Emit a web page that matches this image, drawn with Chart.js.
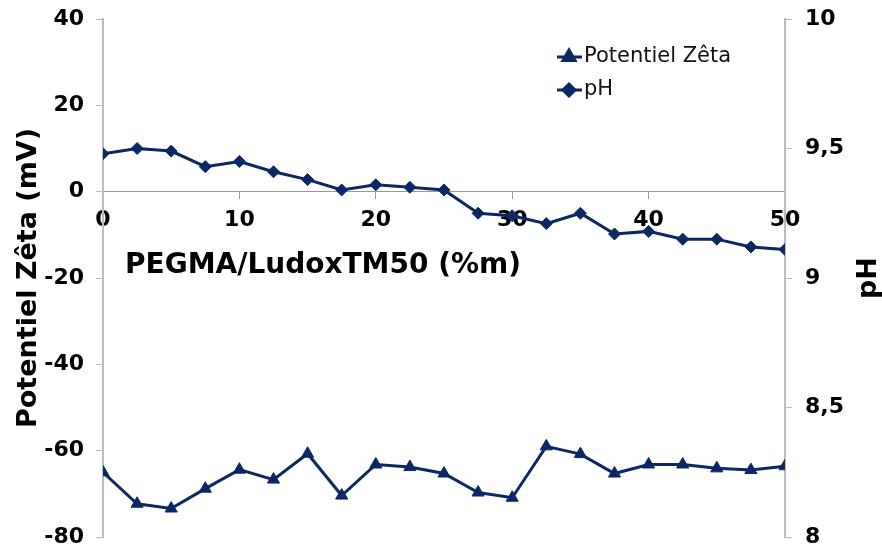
<!DOCTYPE html>
<html lang="fr">
<head>
    <meta charset="UTF-8">
    <title>Potentiel Zêta et pH</title>
    <script src="https://cdn.jsdelivr.net/npm/chart.js"></script>
    <style>
        body {
            margin: 0;
            background: #ffffff;
        }
        #chart-box {
            width: 882px;
            height: 550px;
        }
    </style>
</head>
<body>
    <div id="chart-box">
        <canvas id="zetaChart" width="882" height="550"></canvas>
    </div>

    <script>
        // PEGMA/LudoxTM50 ratio (%m)
        const pegmaRatio = [0, 2.5, 5, 7.5, 10, 12.5, 15, 17.5, 20, 22.5, 25,
                            27.5, 30, 32.5, 35, 37.5, 40, 42.5, 45, 47.5, 50];
        // Zeta potential (mV)
        const zetaValues = [-65.0, -72.3, -73.4, -68.8, -64.4, -66.7, -60.7, -70.4, -63.2, -63.8, -65.3,
                            -69.7, -70.9, -59.0, -60.8, -65.3, -63.2, -63.2, -64.1, -64.5, -63.6];
        // pH
        const phValues = [9.48, 9.50, 9.49, 9.43, 9.45, 9.41, 9.38, 9.34, 9.36, 9.35, 9.34,
                          9.25, 9.24, 9.21, 9.25, 9.17, 9.18, 9.15, 9.15, 9.12, 9.11];

        const seriesLabels = ['Potentiel Zêta', 'pH'];
        const xTitle = 'PEGMA/LudoxTM50 (%m)';
        const yTitle = 'Potentiel Zêta (mV)';
        const y2Title = 'pH';

        const navy = '#0c2764';
        const axisGrey = '#bdbdbd';
        const tickFont = { family: 'DejaVu Sans', size: 22, weight: 'bold' };
        const titleFont = { family: 'DejaVu Sans', size: 27, weight: 'bold' };

        const toPoints = values => values.map((v, i) => ({ x: pegmaRatio[i], y: v }));

        // fixed side widths; label overhang is left to the outer padding
        const fixWidth = w => scale => {
            scale.width = w;
            scale.paddingTop = 0;
            scale.paddingBottom = 0;
        };

        // Legend, x title and right title drawn by hand
        const extraText = {
            id: 'extraText',
            afterDraw(chart) {
                const ctx = chart.ctx;
                const area = chart.chartArea;
                const zeroY = chart.scales.y.getPixelForValue(0);
                ctx.save();

                // x axis title under the tick labels
                ctx.font = 'bold 28px "DejaVu Sans"';
                ctx.fillStyle = '#000';
                ctx.textAlign = 'left';
                ctx.textBaseline = 'middle';
                ctx.fillText(xTitle, area.left + 22, zeroY + 74);

                // right axis title, reading upwards
                ctx.font = 'bold 27px "DejaVu Sans"';
                ctx.translate(869, (area.top + area.bottom) / 2);
                ctx.rotate(-Math.PI / 2);
                ctx.textAlign = 'center';
                ctx.fillText(y2Title, 0, 0);
                ctx.restore();

                // legend entries
                ctx.save();
                const styles = ['triangle', 'rectRot'];
                const radii = [7, 6];
                chart.data.datasets.forEach((ds, i) => {
                    const y = 57 + i * 33;
                    ctx.strokeStyle = navy;
                    ctx.lineWidth = 3;
                    ctx.beginPath();
                    ctx.moveTo(557, y);
                    ctx.lineTo(582, y);
                    ctx.stroke();
                    ctx.fillStyle = navy;
                    Chart.helpers.drawPoint(ctx, {
                        pointStyle: styles[i], radius: radii[i], borderWidth: 1, rotation: 0
                    }, 569, y);
                    ctx.fillStyle = '#111';
                    ctx.font = '21px "DejaVu Sans"';
                    ctx.textAlign = 'left';
                    ctx.textBaseline = 'middle';
                    ctx.fillText(ds.label, 584, y);
                });
                ctx.restore();
            }
        };

        const ctx = document.getElementById('zetaChart').getContext('2d');
        const chart = new Chart(ctx, {
            type: 'line',
            data: {
                datasets: [{
                    label: seriesLabels[0],
                    data: toPoints(zetaValues),
                    yAxisID: 'y',
                    borderColor: navy,
                    backgroundColor: navy,
                    borderWidth: 3,
                    pointStyle: 'triangle',
                    pointRadius: 7,
                    pointBorderWidth: 1,
                    tension: 0
                }, {
                    label: seriesLabels[1],
                    data: toPoints(phValues),
                    yAxisID: 'y2',
                    borderColor: navy,
                    backgroundColor: navy,
                    borderWidth: 3,
                    pointStyle: 'rectRot',
                    pointRadius: 6,
                    pointBorderWidth: 1,
                    tension: 0
                }]
            },
            options: {
                responsive: false,
                animation: false,
                layout: {
                    padding: { top: 19, bottom: 13, left: 0, right: 0 }
                },
                plugins: {
                    legend: { display: false },
                    tooltip: { enabled: false }
                },
                scales: {
                    x: {
                        type: 'linear',
                        min: 0,
                        max: 50,
                        position: { y: 0 },
                        ticks: {
                            stepSize: 10,
                            color: '#000',
                            font: tickFont,
                            padding: 8
                        },
                        grid: {
                            drawOnChartArea: false,
                            color: '#999',
                            tickLength: 7
                        },
                        border: { color: '#999', width: 1 }
                    },
                    y: {
                        position: 'left',
                        min: -80,
                        max: 40,
                        ticks: {
                            stepSize: 20,
                            color: '#000',
                            font: tickFont,
                            padding: 12
                        },
                        grid: {
                            drawOnChartArea: false,
                            color: axisGrey,
                            tickLength: 7
                        },
                        border: { color: axisGrey, width: 2 },
                        title: {
                            display: true,
                            text: yTitle,
                            color: '#000',
                            font: titleFont,
                            padding: { top: 13, bottom: 0 }
                        },
                        afterFit: fixWidth(103)
                    },
                    y2: {
                        position: 'right',
                        min: 8,
                        max: 10,
                        ticks: {
                            stepSize: 0.5,
                            color: '#000',
                            font: tickFont,
                            padding: 13,
                            callback: v => String(v).replace('.', ',')
                        },
                        grid: {
                            drawOnChartArea: false,
                            color: axisGrey,
                            tickLength: 7
                        },
                        border: { color: axisGrey, width: 2 },
                        afterFit: fixWidth(97)
                    }
                }
            },
            plugins: [extraText]
        });
    </script>
</body>
</html>
